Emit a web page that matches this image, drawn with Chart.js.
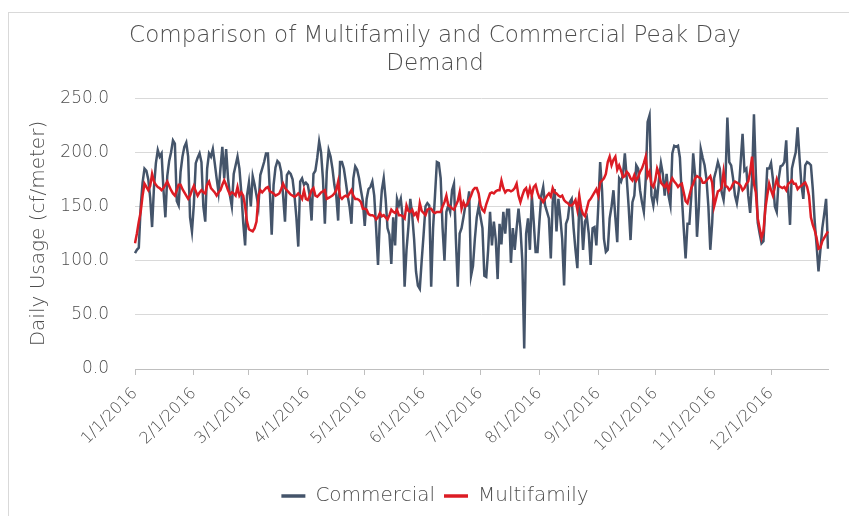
<!DOCTYPE html>
<html>
<head>
<meta charset="utf-8">
<script src="https://cdn.jsdelivr.net/npm/chart.js@4"></script>
<style>
  html, body { margin: 0; padding: 0; background: #fff; }
  #wrap { position: relative; width: 849px; height: 516px; overflow: hidden; }
  #frame { position: absolute; left: 8px; top: 12px; width: 860px; height: 520px; border: 1px solid #d9d9d9; box-sizing: border-box; }
  #peakChart { position: absolute; left: 0; top: 0; }
</style>
</head>
<body>
<div id="wrap">
  <div id="frame"></div>
  <canvas id="peakChart" width="849" height="516"></canvas>
</div>
<script>
// tick labels shown on the x axis (first day of each month)
const tickLabels = [
  "1/1/2016", "2/1/2016", "3/1/2016", "4/1/2016", "5/1/2016", "6/1/2016",
  "7/1/2016", "8/1/2016", "9/1/2016", "10/1/2016", "11/1/2016", "12/1/2016"
];

// one category per day of 2016
const days = [];
for (let d = new Date(2016, 0, 1); d.getFullYear() === 2016; d.setDate(d.getDate() + 1)) {
  days.push((d.getMonth() + 1) + "/" + d.getDate() + "/2016");
}

// daily usage, cf/meter (one row per week, Fri..Thu)
const commercial = [
  107, 110, 112, 150, 172, 185, 183,
  175, 158, 131, 168, 190, 202, 196,
  199, 165, 140, 178, 192, 200, 211,
  208, 155, 151, 182, 196, 205, 209,
  196, 140, 127, 152, 190, 195, 199,
  191, 150, 136, 185, 199, 196, 203,
  190, 176, 163, 185, 205, 176, 203,
  176, 160, 150, 180, 188, 196, 185,
  163, 135, 114, 160, 172, 150, 178,
  170, 160, 150, 179, 185, 191, 199,
  199, 165, 124, 170, 186, 192, 190,
  182, 160, 136, 179, 182, 180, 175,
  160, 140, 113, 173, 176, 170, 172,
  170, 160, 137, 180, 183, 195, 210,
  200, 175, 134, 182, 202, 196, 185,
  170, 160, 137, 191, 191, 185, 173,
  160, 150, 134, 176, 187, 184, 176,
  165, 155, 132, 157, 166, 168, 173,
  160, 130, 96, 140, 165, 176, 157,
  130, 124, 97, 140, 114, 157, 151,
  157, 140, 76, 110, 131, 157, 142,
  120, 90, 77, 74, 100, 124, 150,
  153, 151, 76, 130, 160, 191, 190,
  176, 130, 100, 145, 151, 145, 165,
  171, 120, 76, 125, 130, 140, 151,
  151, 164, 86, 95, 120, 140, 150,
  140, 130, 86, 85, 110, 145, 114,
  136, 120, 83, 134, 115, 145, 125,
  147, 147, 98, 130, 110, 130, 148,
  130, 100, 19, 125, 139, 110, 160,
  136, 108, 108, 136, 160, 168, 151,
  145, 139, 102, 154, 166, 127, 157,
  140, 120, 77, 134, 139, 154, 157,
  130, 110, 93, 154, 145, 110, 136,
  140, 125, 96, 130, 131, 114, 150,
  191, 165, 120, 108, 110, 139, 150,
  165, 140, 117, 176, 173, 179, 199,
  176, 150, 119, 154, 160, 188, 185,
  165, 154, 145, 175, 228, 234, 160,
  151, 165, 157, 176, 190, 180, 160,
  180, 160, 151, 199, 206, 205, 206,
  195, 160, 130, 102, 134, 134, 160,
  199, 179, 122, 150, 203, 195, 188,
  175, 150, 110, 135, 176, 183, 191,
  185, 163, 156, 175, 232, 191, 188,
  176, 160, 153, 165, 191, 217, 183,
  185, 160, 144, 175, 235, 180, 135,
  125, 116, 118, 151, 185, 185, 190,
  175, 150, 145, 175, 187, 188, 191,
  211, 165, 133, 185, 193, 200, 223,
  195, 170, 157, 188, 191, 190, 188,
  166, 136, 114, 90, 110, 130, 143,
  157, 111
];

const multifamily = [
  116, 125, 136, 145, 160, 171, 168, 165, 169, 180,
  173, 170, 168, 167, 165, 167, 170, 173, 169, 165,
  162, 160, 165, 170, 170, 166, 163, 160, 157, 160,
  165, 169, 164, 160, 163, 165, 163, 162, 170, 173,
  167, 165, 163, 160, 163, 165, 170, 174, 170, 165,
  161, 163, 162, 160, 168, 160, 163, 160, 150, 136,
  129, 128, 127, 130, 136, 160, 165, 163, 165, 167,
  168, 164, 163, 162, 160, 161, 162, 166, 171, 167,
  165, 163, 161, 160, 159, 160, 162, 160, 157, 165,
  157, 156, 160, 165, 167, 160, 159, 161, 163, 164,
  165, 157, 158, 159, 160, 162, 165, 173, 159, 157,
  159, 160, 159, 162, 165, 160, 157, 157, 156, 154,
  148, 148, 147, 143, 142, 142, 141, 138, 140, 144,
  141, 142, 140, 138, 142, 147, 145, 144, 147, 142,
  142, 141, 139, 151, 146, 145, 147, 142, 144, 139,
  153, 146, 144, 142, 147, 148, 148, 145, 144, 145,
  145, 145, 150, 154, 160, 151, 150, 148, 147, 151,
  155, 163, 148, 154, 150, 152, 156, 160, 165, 167,
  167, 162, 151, 147, 145, 152, 157, 162, 163, 162,
  164, 165, 165, 174, 167, 163, 165, 165, 164, 165,
  167, 171, 160, 154, 160, 165, 167, 160, 167, 160,
  168, 170, 163, 158, 157, 154, 157, 160, 162, 159,
  167, 163, 162, 160, 159, 160, 156, 154, 153, 151,
  151, 153, 156, 147, 160, 148, 143, 141, 148, 155,
  157, 160, 163, 166, 160, 172, 174, 176, 180, 191,
  196, 188, 193, 196, 184, 188, 183, 177, 178, 182,
  180, 176, 174, 179, 174, 177, 182, 185, 190, 196,
  178, 182, 170, 168, 174, 185, 180, 172, 170, 168,
  171, 165, 172, 176, 173, 171, 168, 170, 171, 163,
  155, 153, 160, 167, 171, 176, 178, 177, 176, 172,
  172, 174, 176, 178, 172, 150, 157, 164, 165, 167,
  182, 169, 168, 165, 167, 171, 173, 172, 171, 169,
  165, 167, 171, 173, 182, 196, 171, 163, 139, 130,
  121, 127, 148, 160, 171, 165, 160, 168, 175, 169,
  168, 167, 168, 165, 171, 172, 174, 171, 171, 166,
  168, 169, 171, 172, 168, 160, 140, 133, 128, 121,
  111, 112, 118, 121, 124, 127
];

const FONT = "'Century Gothic', 'DejaVu Sans', sans-serif";
const TEXT = "#4d4d4d";

const ctx = document.getElementById("peakChart");
new Chart(ctx, {
  type: "line",
  data: {
    labels: days,
    datasets: [
      {
        label: "Commercial",
        data: commercial,
        borderColor: "#44546A",
        backgroundColor: "#44546A",
        borderWidth: 2.5,
        pointRadius: 0,
        tension: 0,
        order: 2
      },
      {
        label: "Multifamily",
        data: multifamily,
        borderColor: "#DC1C24",
        backgroundColor: "#DC1C24",
        borderWidth: 2.5,
        pointRadius: 0,
        tension: 0,
        order: 1
      }
    ]
  },
  options: {
    responsive: false,
    animation: false,
    // left padding keeps title and legend centred where the original has them
    layout: { padding: { left: 21, right: 0, top: 0, bottom: 0 } },
    plugins: {
      tooltip: { enabled: false },
      title: {
        display: true,
        text: ["Comparison of Multifamily and Commercial Peak Day", "Demand"],
        color: TEXT,
        font: { family: FONT, size: 23, weight: "300", lineHeight: 1.22 },
        padding: { top: 22, bottom: 20 }
      },
      legend: {
        position: "bottom",
        labels: {
          color: TEXT,
          font: { family: FONT, size: 20, weight: "300" },
          usePointStyle: true,
          pointStyle: "line",
          pointStyleWidth: 24,
          padding: 9,
          sort: (a, b) => a.datasetIndex - b.datasetIndex,
          generateLabels: chart => {
            const items = Chart.defaults.plugins.legend.labels.generateLabels(chart);
            items.forEach(it => { it.lineWidth = 3.5; });
            return items;
          }
        }
      }
    },
    scales: {
      x: {
        grid: {
          display: true,
          drawOnChartArea: false,
          drawTicks: true,
          tickLength: 6,
          color: "#bfbfbf"
        },
        border: { display: true, color: "#bfbfbf" },
        ticks: {
          autoSkip: false,
          minRotation: 45,
          maxRotation: 45,
          padding: 9,
          color: TEXT,
          font: { family: FONT, size: 16, weight: "300" },
          callback: function (value) {
            const lab = this.getLabelForValue(value);
            return tickLabels.includes(lab) ? lab : null;
          }
        },
        afterFit: scale => { scale.height = 108; }
      },
      y: {
        min: 0,
        max: 250,
        grid: { color: "#d9d9d9", drawTicks: false },
        border: { display: false },
        ticks: {
          stepSize: 50,
          padding: 26,
          color: TEXT,
          font: { family: FONT, size: 17, weight: "300" },
          callback: v => v.toFixed(1)
        },
        title: {
          display: true,
          text: "Daily Usage (cf/meter)",
          color: TEXT,
          font: { family: FONT, size: 20, weight: "300" },
          padding: { top: 6, bottom: 0 }
        },
        afterFit: scale => { scale.width = 114; }
      },
      // empty right-hand strip so the plot stops where the original does
      yRight: {
        position: "right",
        min: 0,
        max: 250,
        grid: { display: false },
        border: { display: false },
        ticks: { display: false },
        afterFit: scale => { scale.width = 21; }
      }
    }
  }
});
</script>
</body>
</html>
